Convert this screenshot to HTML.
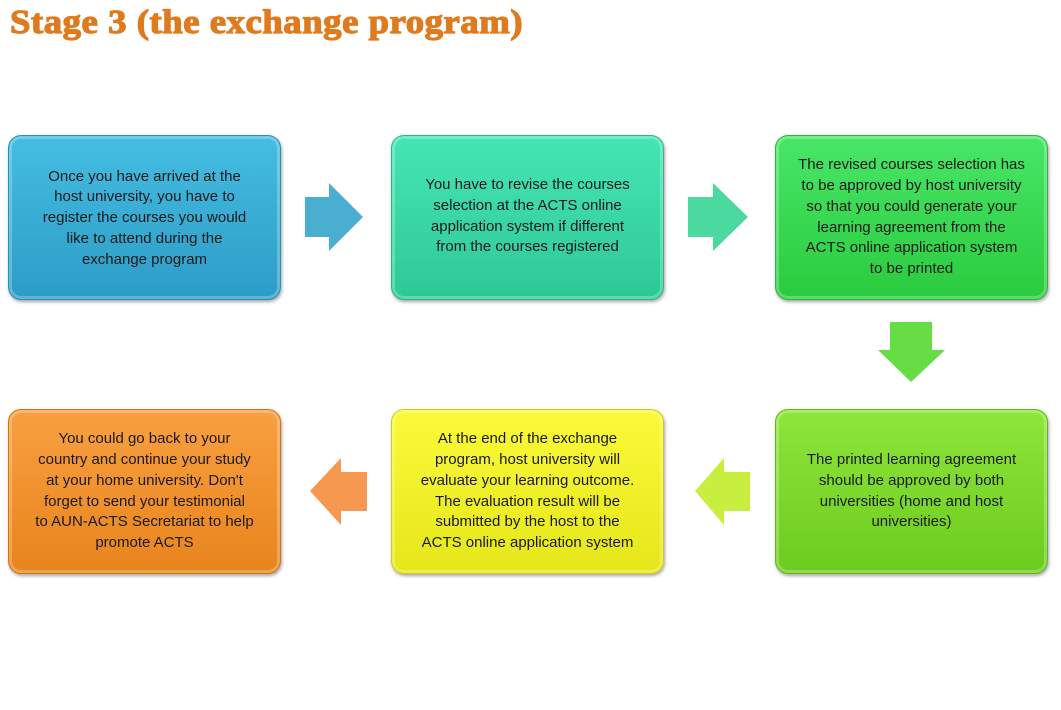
<!DOCTYPE html>
<html><head><style>
body{margin:0;width:1061px;height:710px;background:#fff;position:relative;overflow:hidden;font-family:"Liberation Sans",sans-serif}
.t{position:absolute;left:10px;top:4px;font-family:"Liberation Serif",serif;font-weight:bold;font-size:34px;color:#e07a1f;white-space:nowrap;transform-origin:0 0;transform:scaleX(1.08);letter-spacing:0.5px;-webkit-text-stroke:1.2px #e07a1f}
.b{position:absolute;width:273px;height:165px;border-radius:13px;box-sizing:border-box;display:flex;align-items:center;justify-content:center;text-align:center;font-size:15px;line-height:20.7px;color:#1a1a1a;padding:0 4px;white-space:nowrap;box-shadow:1px 2px 3px rgba(0,0,0,.35),inset 0 0 0 3px rgba(255,255,255,.25)}
svg{position:absolute;left:0;top:0}
</style></head><body>
<div class="t">Stage 3 (the exchange program)</div>
<div class="b" style="left:8px;top:135px;background:linear-gradient(#45bde2,#2c9cc6);border:1px solid #2a8fb6"><div style="margin-top:2px">Once you have arrived at the<br>host university, you have to<br>register the courses you would<br>like to attend during the<br>exchange program</div></div>
<div class="b" style="left:391px;top:135px;background:linear-gradient(#45e6b4,#2ec895);border:1px solid #2ab888"><div style="margin-top:-2px">You have to revise the courses<br>selection at the ACTS online<br>application system if different<br>from the courses registered</div></div>
<div class="b" style="left:775px;top:135px;background:linear-gradient(#48e668,#2bcb3e);border:1px solid #28b83a"><div>The revised courses selection has<br>to be approved by host university<br>so that you could generate your<br>learning agreement from the<br>ACTS online application system<br>to be printed</div></div>
<div class="b" style="left:775px;top:409px;background:linear-gradient(#8ee63a,#6ccb1e);border:1px solid #62b81a"><div>The printed learning agreement<br>should be approved by both<br>universities (home and host<br>universities)</div></div>
<div class="b" style="left:391px;top:409px;background:linear-gradient(#fafa3a,#e6e61a);border:1px solid #cccc18"><div>At the end of the exchange<br>program, host university will<br>evaluate your learning outcome.<br>The evaluation result will be<br>submitted by the host to the<br>ACTS online application system</div></div>
<div class="b" style="left:8px;top:409px;background:linear-gradient(#f8a040,#e8841c);border:1px solid #d07418"><div>You could go back to your<br>country and continue your study<br>at your home university. Don't<br>forget to send your testimonial<br>to AUN-ACTS Secretariat to help<br>promote ACTS</div></div>
<svg width="1061" height="710">
<polygon points="305,197 329,197 329,183 363,217 329,251 329,237 305,237" fill="#4aaed0"/>
<polygon points="688,197 713,197 713,183 748,217 713,251 713,237 688,237" fill="#4cd9a0"/>
<polygon points="890,322 932,322 932,350 945,350 911,382 878,350 890,350" fill="#66dd44"/>
<polygon points="750,472 724,472 724,458 695,491 724,525 724,511 750,511" fill="#c8ee40"/>
<polygon points="367,472 341,472 341,458 310,491 341,525 341,511 367,511" fill="#f69850"/>
</svg>
</body></html>
